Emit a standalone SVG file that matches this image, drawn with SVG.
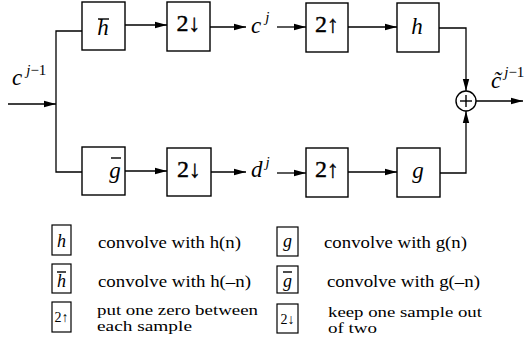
<svg xmlns="http://www.w3.org/2000/svg" width="530" height="349" viewBox="0 0 530 349">
<defs>
<marker id="ah" markerWidth="13" markerHeight="8" refX="12" refY="4" orient="auto" markerUnits="userSpaceOnUse">
<path d="M0,0.8 L12,4 L0,7.2 Z" fill="#000"/>
</marker>
<style>
.box{fill:#fff;stroke:#000;stroke-width:1.4}
.sbox{fill:#fff;stroke:#000;stroke-width:1.2}
.ln{fill:none;stroke:#000;stroke-width:1.3}
.arr{fill:none;stroke:#000;stroke-width:1.3;marker-end:url(#ah)}
.bar{stroke:#000;stroke-width:1.4}
.it{font-family:"Liberation Serif","Times New Roman",serif;font-style:italic;fill:#000}
.rm{font-family:"Liberation Serif","Times New Roman",serif;fill:#000}
.num{font-family:"Liberation Serif","Times New Roman",serif;font-size:24px;fill:#000;stroke:#000;stroke-width:0.4}
.lg{font-family:"Liberation Serif","Times New Roman",serif;font-size:16.5px;fill:#000}
.lg2{font-family:"Liberation Serif","Times New Roman",serif;font-size:14.5px;fill:#000}
</style>
</defs>
<rect width="530" height="349" fill="#fff"/>

<g id="connectors">
<line class="arr" x1="8" y1="104" x2="56" y2="104"/>
<polyline class="ln" points="82,31 56,31 56,172 82,172"/>
<line class="arr" x1="125" y1="25" x2="167" y2="25"/>
<line class="arr" x1="210" y1="27" x2="246" y2="27"/>
<line class="arr" x1="277" y1="27" x2="306" y2="27"/>
<line class="arr" x1="348" y1="27" x2="397" y2="27"/>
<polyline class="arr" points="439,28 466,28 466,91"/>
<line class="arr" x1="125" y1="171" x2="167" y2="171"/>
<line class="arr" x1="211" y1="172" x2="246" y2="172"/>
<line class="arr" x1="277" y1="173" x2="306" y2="173"/>
<line class="arr" x1="348" y1="172" x2="397" y2="172"/>
<polyline class="arr" points="440,173 466,173 466,111"/>
<line class="arr" x1="476" y1="101" x2="523" y2="101"/>
</g>

<g id="hbar_box">
<rect class="box" x="82" y="2" width="43" height="48"/>
<line class="bar" x1="98" y1="19" x2="109" y2="19"/>
<text class="it" x="103" y="35" font-size="23" text-anchor="middle">h</text>
</g>
<g id="down_top">
<rect class="box" x="167" y="2" width="43" height="49"/>
<text class="num" x="188.5" y="31" text-anchor="middle">2↓</text>
</g>
<g id="up_top">
<rect class="box" x="306" y="3" width="42" height="49"/>
<text class="num" x="327" y="32" text-anchor="middle">2↑</text>
</g>
<g id="h_box">
<rect class="box" x="397" y="3" width="42" height="49"/>
<text class="it" x="417" y="34" font-size="23" text-anchor="middle">h</text>
</g>
<g id="gbar_box">
<rect class="box" x="82" y="147" width="43" height="48"/>
<line class="bar" x1="111" y1="158" x2="121" y2="158"/>
<text class="it" x="115" y="178" font-size="23" text-anchor="middle">g</text>
</g>
<g id="down_bottom">
<rect class="box" x="167" y="148" width="44" height="48"/>
<text class="num" x="189" y="177" text-anchor="middle">2↓</text>
</g>
<g id="up_bottom">
<rect class="box" x="306" y="148" width="42" height="49"/>
<text class="num" x="327" y="177" text-anchor="middle">2↑</text>
</g>
<g id="g_box">
<rect class="box" x="397" y="148" width="43" height="49"/>
<text class="it" x="418" y="178" font-size="23" text-anchor="middle">g</text>
</g>
<g id="sum">
<circle class="box" cx="466" cy="101" r="10"/>
<line class="bar" x1="460" y1="101" x2="472" y2="101"/>
<line class="bar" x1="466" y1="95" x2="466" y2="107"/>
</g>

<g id="labels">
<text class="it" x="12" y="85" font-size="23">c<tspan font-size="15" dx="4" dy="-10">j</tspan><tspan class="rm" font-style="normal" font-size="15">−1</tspan></text>
<text class="it" x="251" y="33" font-size="23">c<tspan font-size="15" dx="4" dy="-11">j</tspan></text>
<text class="it" x="251" y="177" font-size="23">d<tspan font-size="15" dx="3" dy="-10">j</tspan></text>
<text class="it" x="491" y="88" font-size="23">c̃<tspan font-size="15" dx="3" dy="-11">j</tspan><tspan class="rm" font-style="normal" font-size="15">−1</tspan></text>
</g>

<g id="legend_h">
<rect class="sbox" x="52" y="225" width="19" height="30"/>
<text class="it" x="61.5" y="247" font-size="18" text-anchor="middle">h</text>
<text class="lg" x="98" y="248" textLength="143" lengthAdjust="spacingAndGlyphs">convolve with h(n)</text>
</g>
<g id="legend_hbar">
<rect class="sbox" x="52" y="264" width="19" height="29"/>
<line class="bar" x1="57" y1="272" x2="66" y2="272" stroke-width="1.2"/>
<text class="it" x="61.5" y="287" font-size="18" text-anchor="middle">h</text>
<text class="lg" x="98" y="287" textLength="153" lengthAdjust="spacingAndGlyphs">convolve with h(–n)</text>
</g>
<g id="legend_up">
<rect class="sbox" x="52" y="302" width="19" height="30"/>
<text class="rm" x="61.5" y="322" font-size="14" text-anchor="middle">2↑</text>
<text class="lg2" x="97" y="315" textLength="161" lengthAdjust="spacingAndGlyphs">put one zero between</text>
<text class="lg2" x="97" y="331" textLength="95" lengthAdjust="spacingAndGlyphs">each sample</text>
</g>
<g id="legend_g">
<rect class="sbox" x="277" y="227" width="21" height="29"/>
<text class="it" x="287.5" y="247" font-size="18" text-anchor="middle">g</text>
<text class="lg" x="324" y="248" textLength="143" lengthAdjust="spacingAndGlyphs">convolve with g(n)</text>
</g>
<g id="legend_gbar">
<rect class="sbox" x="277" y="266" width="21" height="27"/>
<line class="bar" x1="283" y1="272" x2="292" y2="272" stroke-width="1.2"/>
<text class="it" x="287.5" y="287" font-size="18" text-anchor="middle">g</text>
<text class="lg" x="327" y="287" textLength="153" lengthAdjust="spacingAndGlyphs">convolve with g(–n)</text>
</g>
<g id="legend_down">
<rect class="sbox" x="277" y="304" width="21" height="29"/>
<text class="rm" x="287.5" y="324" font-size="14" text-anchor="middle">2↓</text>
<text class="lg2" x="328" y="317" textLength="154" lengthAdjust="spacingAndGlyphs">keep one sample out</text>
<text class="lg2" x="328" y="333" textLength="49" lengthAdjust="spacingAndGlyphs">of two</text>
</g>
</svg>
